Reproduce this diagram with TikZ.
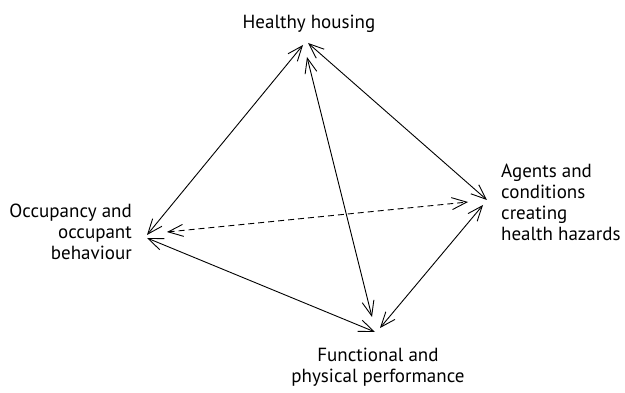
\documentclass[tikz,border=0pt]{standalone}
\usepackage{fontspec}
\setmainfont{PT Sans}
\usetikzlibrary{arrows.meta}
\begin{document}
\begin{tikzpicture}[x=1pt,y=-1pt,
  lbl/.style={inner sep=0pt, font=\fontsize{19}{21}\selectfont},
  link/.style={line width=0.9pt, {Straight Barb[length=15pt,width=12pt]}-{Straight Barb[length=15pt,width=12pt]}},
  dlink/.style={link, dash pattern=on 6pt off 4pt}]
\useasboundingbox (0,0) rectangle (625,393);
\node[lbl, anchor=base] (hh) at (309,29) {Healthy housing};
\node[lbl, anchor=north east, align=right] (oc) at (132,204) {Occupancy and\\occupant\\behaviour};
\node[lbl, anchor=north west, align=left] (ag) at (501,164) {Agents and\\conditions\\creating\\health hazards};
\node[lbl, anchor=north, align=center] (fp) at (378,348) {Functional and\\physical performance};
% arrow end points
\coordinate (hhL) at (303,45);
\coordinate (hhR) at (308,43);
\coordinate (hhD) at (307,57);
\coordinate (ocU) at (147,235);
\coordinate (ocM) at (167,232);
\coordinate (ocD) at (147,238);
\coordinate (agU) at (487,200);
\coordinate (agM) at (468,202);
\coordinate (agD) at (483,205);
\coordinate (fpL) at (375,332);
\coordinate (fpM) at (372,317);
\coordinate (fpR) at (380,328);
\draw[link] (hhL) -- (ocU);
\draw[link] (hhR) -- (agU);
\draw[link] (hhD) -- (fpM);
\draw[dlink] (ocM) -- (agM);
\draw[link] (ocD) -- (fpL);
\draw[link] (agD) -- (fpR);
\end{tikzpicture}
\end{document}
